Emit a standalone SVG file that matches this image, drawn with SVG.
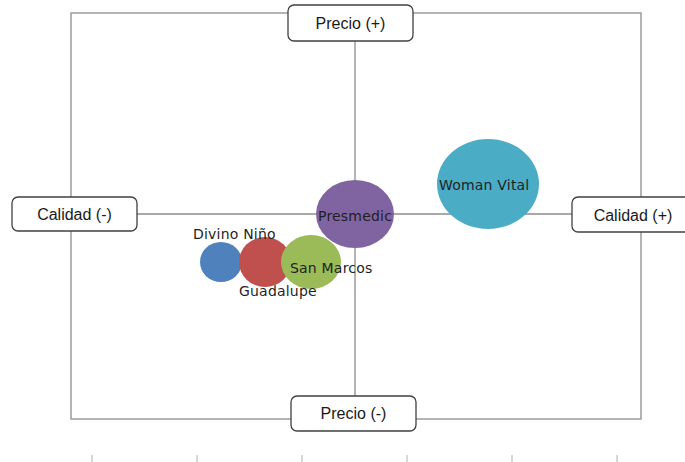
<svg xmlns="http://www.w3.org/2000/svg" width="685" height="462" viewBox="0 0 685 462">
<style>
.ax{stroke:#8c8c8c;stroke-width:1.3;fill:none}
.tk{stroke:#b0b0b0;stroke-width:1}
.box{fill:#fff;stroke:#404040;stroke-width:1.3}
.bt{font-family:"Liberation Sans",Arial,sans-serif;font-size:16px;fill:#1a1a1a;text-anchor:middle}
.lb{font-family:"DejaVu Sans",Verdana,sans-serif;font-size:14px;fill:#1f1f1f;letter-spacing:0.2px}
</style>
<rect width="685" height="462" fill="#fff"/>
<g id="connectors">
<rect class="ax" x="71" y="13" width="570" height="406"/>
<line class="ax" x1="355" y1="13" x2="355" y2="419"/>
<line class="ax" x1="71" y1="214" x2="641" y2="214"/>
<line class="tk" x1="92" y1="455" x2="92" y2="462"/>
<line class="tk" x1="197" y1="455" x2="197" y2="462"/>
<line class="tk" x1="302" y1="455" x2="302" y2="462"/>
<line class="tk" x1="407" y1="455" x2="407" y2="462"/>
<line class="tk" x1="512" y1="455" x2="512" y2="462"/>
<line class="tk" x1="617" y1="455" x2="617" y2="462"/>
</g>
<g id="divino"><ellipse cx="221" cy="262" rx="21" ry="20" fill="#4F81BD"/></g>
<g id="guadalupe"><ellipse cx="265" cy="262" rx="26" ry="25" fill="#C0504D"/></g>
<g id="sanmarcos"><ellipse cx="311" cy="262" rx="30" ry="27" fill="#9BBB59"/></g>
<g id="presmedic"><ellipse cx="355" cy="214" rx="39" ry="34" fill="#8064A2"/></g>
<g id="womanvital"><ellipse cx="488" cy="184" rx="51" ry="45" fill="#4BACC6"/></g>
<g id="labels">
<text class="lb" x="193" y="239">Divino Niño</text>
<text class="lb" x="239" y="296">Guadalupe</text>
<text class="lb" x="290" y="273">San Marcos</text>
<text class="lb" x="318" y="221">Presmedic</text>
<text class="lb" x="439" y="190">Woman Vital</text>
</g>
<g id="precio-plus"><rect class="box" x="288" y="5" width="125" height="36" rx="6"/><text class="bt" x="350.5" y="29">Precio (+)</text></g>
<g id="calidad-minus"><rect class="box" x="12" y="197" width="125" height="34" rx="6"/><text class="bt" x="74.5" y="220">Calidad (-)</text></g>
<g id="calidad-plus"><rect class="box" x="572" y="197" width="125" height="35" rx="6"/><text class="bt" x="633" y="221">Calidad (+)</text></g>
<g id="precio-minus"><rect class="box" x="291" y="396" width="125" height="35" rx="6"/><text class="bt" x="353.5" y="419">Precio (-)</text></g>
</svg>
